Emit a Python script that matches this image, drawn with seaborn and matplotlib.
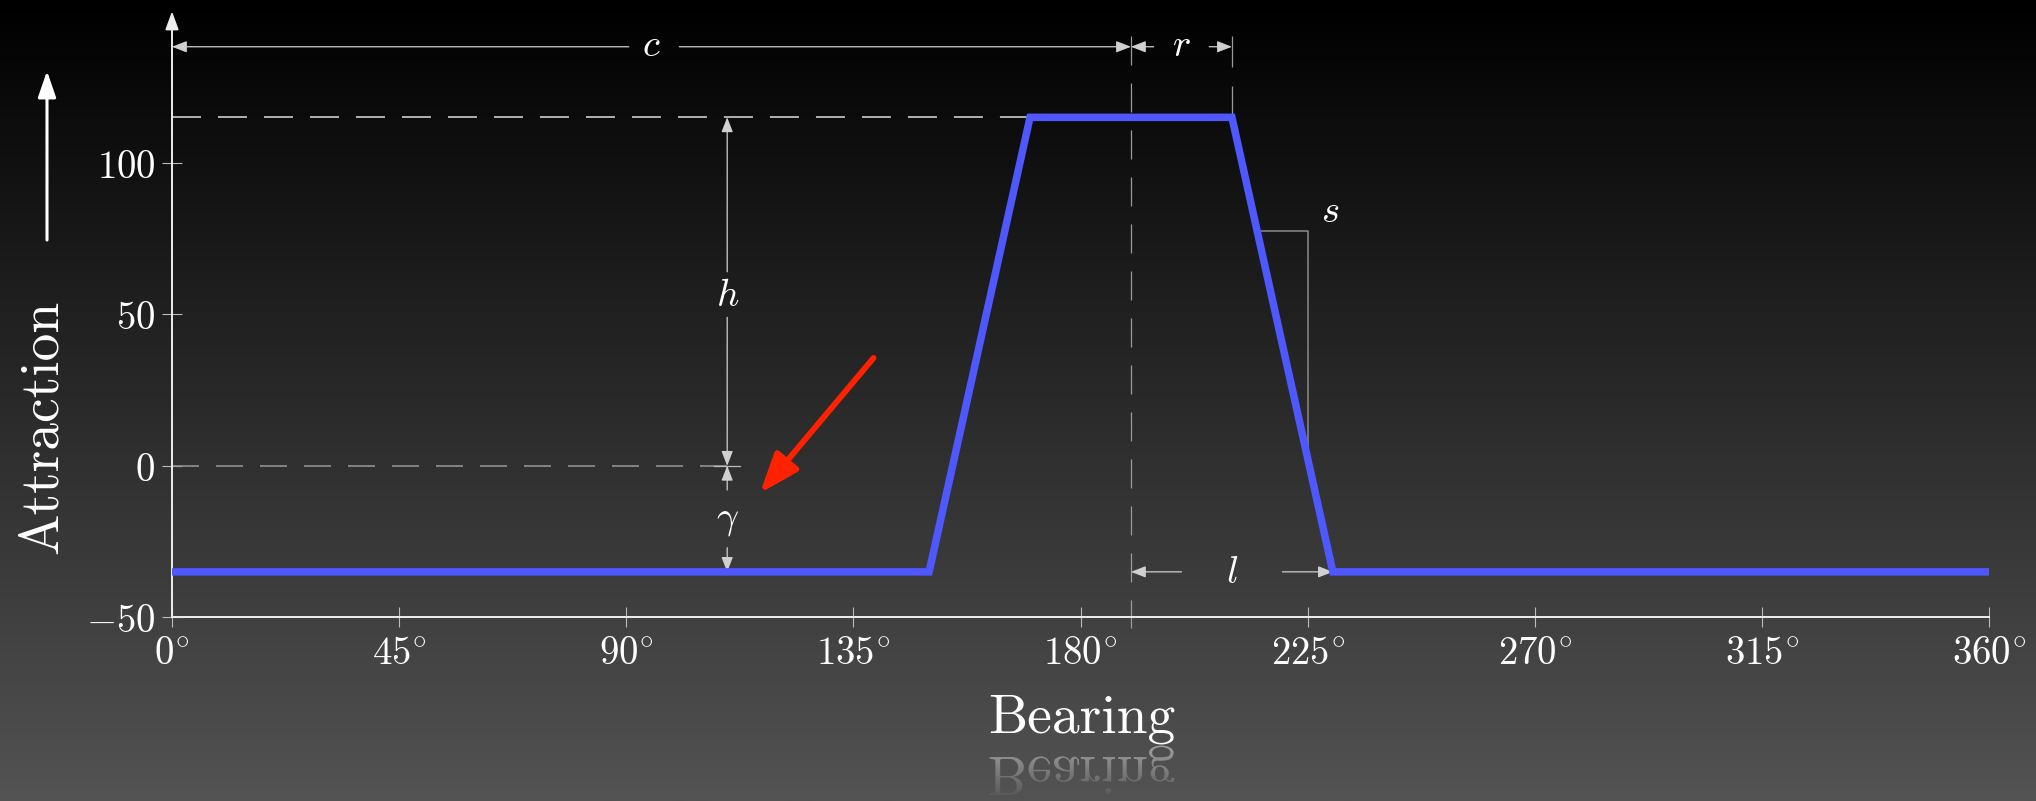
import numpy as np
import matplotlib
matplotlib.use("Agg")
import matplotlib.pyplot as plt
import seaborn as sns
from matplotlib.textpath import TextPath
from matplotlib.font_manager import FontProperties
from matplotlib.patches import PathPatch
from matplotlib.transforms import Affine2D

# ---------------- data ----------------
bearing = [0, 150, 170, 210, 230, 360]
attraction = [-35, -35, 115, 115, -35, -35]

x_ticks = [0, 45, 90, 135, 180, 225, 270, 315, 360]
x_tick_labels = [r"$0^{\circ}$", r"$45^{\circ}$", r"$90^{\circ}$", r"$135^{\circ}$",
                 r"$180^{\circ}$", r"$225^{\circ}$", r"$270^{\circ}$", r"$315^{\circ}$",
                 r"$360^{\circ}$"]
y_ticks = [-50, 0, 50, 100]
y_tick_labels = [r"$-50$", r"$0$", r"$50$", r"$100$"]

center_c = 190      # centre bearing
plateau_r = 210     # end of plateau (c + r)
reach_l = 230       # end of slope (c + l)
plateau_start = 170
height_h = 115
floor_gamma = -35

x_label = "Bearing"
y_label = "Attraction"

# ---------------- figure ----------------
W, H, DPI = 2036, 801, 100
plt.rcParams["mathtext.fontset"] = "cm"
fig = plt.figure(figsize=(W / DPI, H / DPI), dpi=DPI)

# background gradient
bg = fig.add_axes([0, 0, 1, 1], zorder=-10)
grad = np.linspace(0.0, 1.0, 400)[:, None]
cmap_bg = matplotlib.colors.LinearSegmentedColormap.from_list("bg", ["#000000", "#535353"])
bg.imshow(grad, aspect="auto", cmap=cmap_bg, extent=[0, 1, 0, 1], origin="upper")
bg.set_axis_off()

ax = fig.add_axes([172 / W, (H - 617.3) / H, 1817 / W, 606 / H])
ax.patch.set_alpha(0)
ax.set_xlim(0, 360)
ax.set_ylim(-50, 150)

sns.lineplot(x=bearing, y=attraction, ax=ax, color="#4f58ff", lw=5.4, zorder=5,
             solid_joinstyle="miter", sort=False)

# spines
for s in ["top", "right", "left"]:
    ax.spines[s].set_visible(False)
ax.spines["bottom"].set_color("#eeeeee")
ax.spines["bottom"].set_linewidth(1.4)
ax.spines["bottom"].set_zorder(3)

# y axis with arrow
ax.annotate("", xy=(0, 150), xytext=(0, -50), xycoords="data",
            arrowprops=dict(arrowstyle="-|>,head_length=1.1,head_width=0.4", color="#eeeeee",
                            lw=1.4, shrinkA=0, shrinkB=0, mutation_scale=10),
            annotation_clip=False, zorder=3)

ax.set_xticks(x_ticks)
ax.set_xticklabels(x_tick_labels)
ax.set_yticks(y_ticks)
ax.set_yticklabels(y_tick_labels)
ax.tick_params(axis="both", direction="inout", length=14, width=0.8, color="#bbbbbb",
               labelcolor="white", labelsize=28)
ax.tick_params(axis="x", pad=5)
ax.tick_params(axis="y", pad=5)
ax.set_xlabel("")
ax.set_ylabel("")

# ---------------- guide lines ----------------
light = "#dcdcdc"
grey = "#9a9a9a"
ax.plot([0, plateau_start], [height_h, height_h], color=light, lw=1.1,
        dashes=(29 / 1.1 / 1.389, 17 / 1.1 / 1.389), zorder=2)
ax.plot([0, 113], [0, 0], color=grey, lw=1.1,
        dashes=(27 / 1.1 / 1.389, 17 / 1.1 / 1.389), zorder=2)
ax.plot([center_c, center_c], [141.8, -53.5], color=grey, lw=0.9,
        dashes=(29 / 0.9 / 1.389, 18 / 0.9 / 1.389), clip_on=False, zorder=2)
ax.plot([plateau_r, plateau_r], [141.8, height_h], color=grey, lw=0.9,
        dashes=(31 / 0.9 / 1.389, 19 / 0.9 / 1.389), clip_on=False, zorder=2)

# slope indicator
ax.plot([215, 225, 225], [77.5, 77.5, 2.5], color="#8a8a8a", lw=1.1, zorder=2)

# dimension arrows
def dim(start, end):
    ax.annotate("", xy=end, xytext=start,
                arrowprops=dict(arrowstyle="-|>,head_length=0.9,head_width=0.35",
                                color="#d0d0d0", lw=0.9, shrinkA=0, shrinkB=0,
                                mutation_scale=10),
                annotation_clip=False, zorder=4)

yc = 138.3
dim((90.5, yc), (0, yc))
dim((100.5, yc), (center_c, yc))
dim((194.5, yc), (center_c, yc))
dim((205.5, yc), (plateau_r, yc))
dim((110, 64), (110, height_h))
dim((110, 49), (110, 0))
dim((110, -8), (110, 0))
dim((110, -27), (110, floor_gamma))
dim((200, floor_gamma), (center_c, floor_gamma))
dim((220, floor_gamma), (reach_l, floor_gamma))
ax.plot([107.4, 112.6], [0, 0], color="#bbbbbb", lw=0.9, zorder=4)

lab_kw = dict(color="white", fontsize=28, ha="center", va="center", zorder=6)
ax.text(95, yc + 0.5, r"$c$", **lab_kw)
ax.text(200, yc + 0.5, r"$r$", **lab_kw)
ax.text(110, 56.5, r"$h$", **lab_kw)
ax.text(110, -17.5, r"$\gamma$", **lab_kw)
ax.text(210, floor_gamma, r"$l$", **lab_kw)
ax.text(229.4, 84, r"$s$", **lab_kw)

# red pointer arrow
ax.annotate("", xy=(116.5, -9.0), xytext=(139, 35.6),
            arrowprops=dict(arrowstyle="-|>,head_length=1.2,head_width=0.45",
                            color="#ff2200", lw=4.2, shrinkA=0, shrinkB=0,
                            mutation_scale=20),
            annotation_clip=False, zorder=7)

# ---------------- axis labels ----------------
fig.text(43 / W, 1 - 427 / H, y_label, rotation=90, ha="center", va="center",
         fontsize=40, family="cmr10", color="white")
fig.text(1082 / W, (H - 733) / H, x_label, ha="center", va="baseline",
         fontsize=40, family="cmr10", color="white")

# upward arrow next to y label
fig.add_artist(matplotlib.patches.FancyArrowPatch(
    (47, H - 240), (47, H - 71), transform=None,
    arrowstyle="-|>,head_length=1.6,head_width=0.55", color="white", lw=2.2,
    mutation_scale=10, shrinkA=0, shrinkB=0))

# reflection of the x label
fp = FontProperties(family="cmr10")
tp = TextPath((0, 0), x_label, size=40, prop=fp)
ext = tp.get_extents()
tr = (Affine2D().translate(-(ext.x0 + ext.x1) / 2, 0)
      .scale(1 / 72, -1 / 72).translate(1082 / DPI, (H - 757) / DPI))
rpath = tr.transform_path(tp)
clip_patch = PathPatch(rpath, transform=fig.dpi_scale_trans)
ov = fig.add_axes([960 / W, 0, 250 / W, 60 / H], zorder=20)
ov.set_axis_off()
ov.patch.set_alpha(0)
n = 60
rgba = np.ones((n, 2, 4))
rgba[:, :, 3] = np.linspace(0.5, 0.0, n)[:, None]
im = ov.imshow(rgba, aspect="auto", extent=[0, 1, 0, 1], origin="upper")
im.set_clip_path(clip_patch)

fig.savefig("out.png", dpi=DPI)
